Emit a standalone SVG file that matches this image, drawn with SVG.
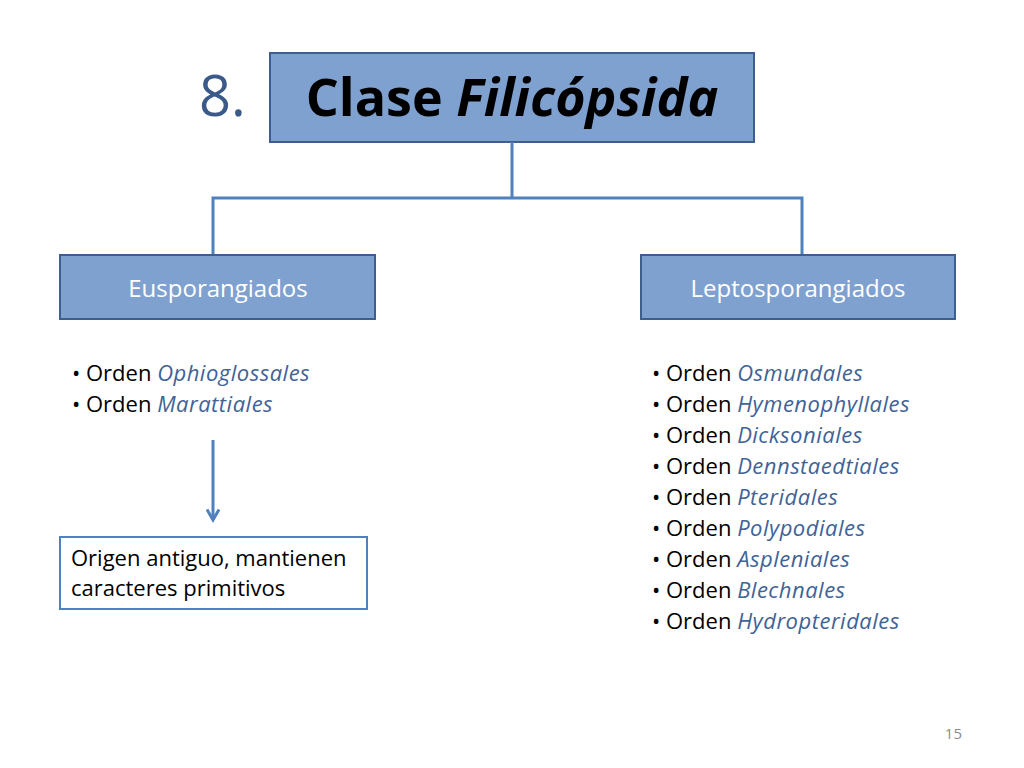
<svg xmlns="http://www.w3.org/2000/svg" width="1024" height="768" viewBox="0 0 1024 768">
<style>
text{font-family:"Open Sans","Liberation Sans",sans-serif}
.box{fill:#7fa1cf;stroke:#3d5f8f;stroke-width:2}
.conn{fill:none;stroke:#4f81bd;stroke-width:3}
.lbl{fill:#ffffff;font-size:24px;text-anchor:middle}
.li{font-size:22px;fill:#000}
.it{font-style:italic;fill:#3f6396;letter-spacing:0.5px}
</style>
<defs>
<marker id="arr" viewBox="0 0 10 10" refX="8" refY="5" markerWidth="5" markerHeight="5" orient="auto" markerUnits="strokeWidth">
<path d="M1,1 L8,5 L1,9" fill="none" stroke="#4f81bd" stroke-width="2"/>
</marker>
</defs>
<rect width="1024" height="768" fill="#fff"/>
<text x="199" y="116" font-size="56" fill="#3b5a8a">8.</text>
<g id="main">
<rect class="box" x="270" y="53" width="484" height="89"/>
<text x="512" y="116" font-size="52" font-weight="bold" text-anchor="middle" fill="#000">Clase <tspan font-style="italic">Filicópsida</tspan></text>
</g>
<g id="connectors">
<path class="conn" d="M512,142 V198 M213,255 V198 H802 V255"/>
<path class="conn" d="M213,440 V520" marker-end="url(#arr)"/>
</g>
<g id="euspor">
<rect class="box" x="60" y="255" width="315" height="64"/>
<text class="lbl" x="218" y="297">Eusporangiados</text>
</g>
<g id="leptospor">
<rect class="box" x="641" y="255" width="314" height="64"/>
<text class="lbl" x="798" y="297">Leptosporangiados</text>
</g>
<g id="list-left">
<text class="li" x="72" y="381">• Orden <tspan class="it">Ophioglossales</tspan></text>
<text class="li" x="72" y="412">• Orden <tspan class="it">Marattiales</tspan></text>
</g>
<g id="origen">
<rect x="60" y="537" width="307" height="72" fill="#fff" stroke="#4f81bd" stroke-width="2"/>
<text class="li" x="71" y="566">Origen antiguo, mantienen</text>
<text class="li" x="71" y="596">caracteres primitivos</text>
</g>
<g id="list-right">
<text class="li" x="652" y="381">• Orden <tspan class="it">Osmundales</tspan></text>
<text class="li" x="652" y="412">• Orden <tspan class="it">Hymenophyllales</tspan></text>
<text class="li" x="652" y="443">• Orden <tspan class="it">Dicksoniales</tspan></text>
<text class="li" x="652" y="474">• Orden <tspan class="it">Dennstaedtiales</tspan></text>
<text class="li" x="652" y="505">• Orden <tspan class="it">Pteridales</tspan></text>
<text class="li" x="652" y="536">• Orden <tspan class="it">Polypodiales</tspan></text>
<text class="li" x="652" y="567">• Orden <tspan class="it">Aspleniales</tspan></text>
<text class="li" x="652" y="598">• Orden <tspan class="it">Blechnales</tspan></text>
<text class="li" x="652" y="629">• Orden <tspan class="it">Hydropteridales</tspan></text>
</g>
<text x="962" y="739" font-size="15" fill="#8c8c8c" text-anchor="end">15</text>
</svg>
